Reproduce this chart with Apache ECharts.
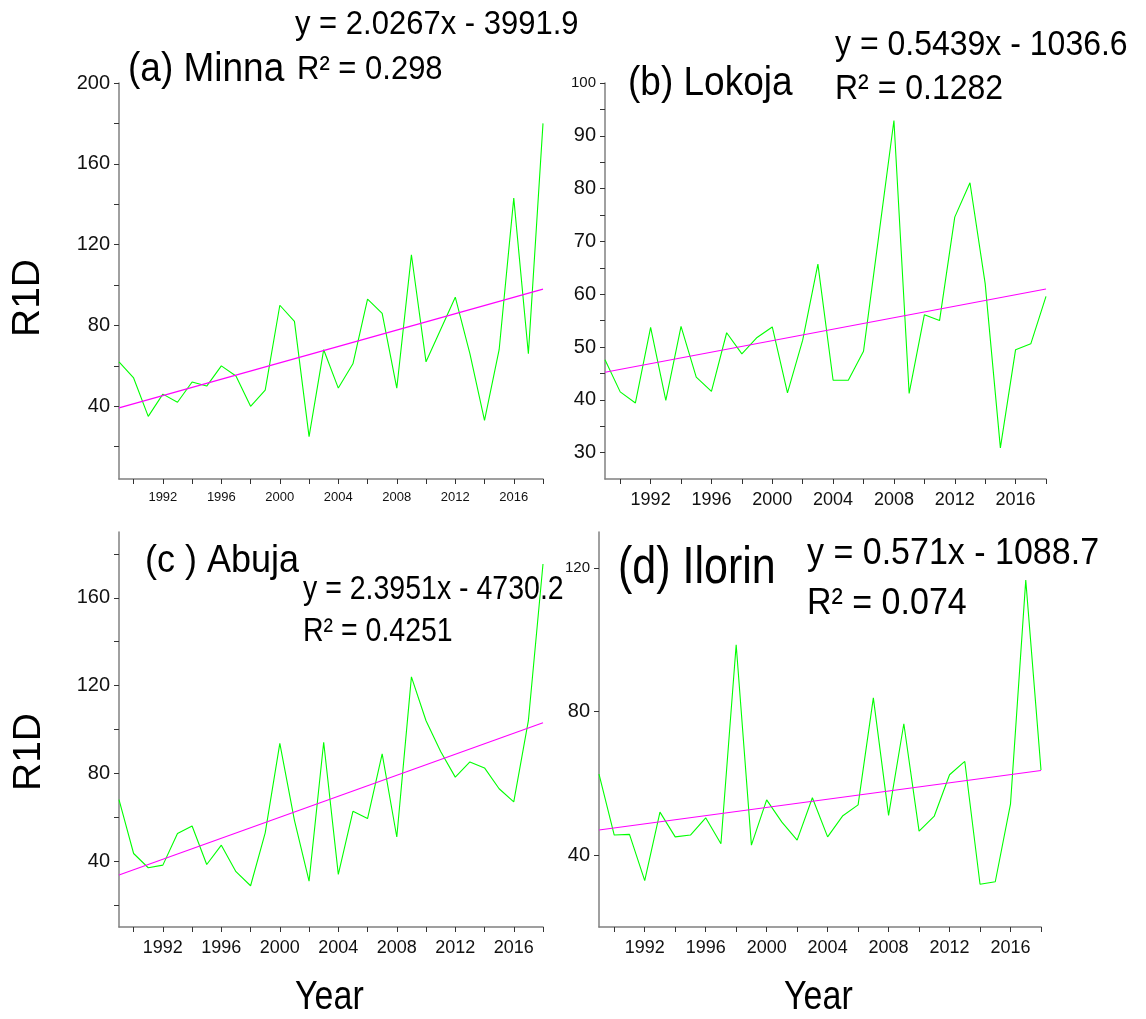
<!DOCTYPE html>
<html>
<head>
<meta charset="utf-8">
<script src="https://cdn.jsdelivr.net/npm/echarts@6/dist/echarts.min.js"></script>
<style>
html,body{margin:0;padding:0;background:#fff;}
#chart{width:1146px;height:1019px;}
</style>
</head>
<body>
<div id="chart"></div>
<script>
// ---- data ----
const years = [1989,1990,1991,1992,1993,1994,1995,1996,1997,1998,1999,2000,2001,2002,2003,2004,2005,2006,2007,2008,2009,2010,2011,2012,2013,2014,2015,2016,2017,2018];
const minna  = [62,54,35,46,42,52,50,60,55,40,48,90,82,25,68,49,61,93,86,49,115,62,78,94,66,33,68,143,66,180];
const lokoja = [47.6,41.5,39.4,53.7,39.9,53.9,44.3,41.6,52.7,48.7,51.8,53.8,41.3,51.3,65.7,43.7,43.7,49.2,71,92.9,41.2,56.1,55,74.6,81.1,62,30.9,49.5,50.6,59.6];
const abuja  = [68,43.5,37,38.2,52.6,56,38.5,47.3,35.2,28.8,52.9,93.7,58.6,30.9,94.2,34,62.7,59.4,88.9,51,124,104,90,78.3,85.2,82.5,73,67,104,175.4];
const ilorin = [62.6,45.6,45.8,32.9,52,45.1,45.6,50.4,43.2,98.6,42.8,55.4,49.2,44.2,56,45.1,51,54,83.8,51.1,76.6,46.7,50.9,62.4,66.1,31.9,32.6,54.3,116.6,63.7];
// trend lines (slope, intercept) as printed on the chart
const trendMinna  = [2.0267, -3991.9];
const trendLokoja = [0.5439, -1036.6];
const trendAbuja  = [2.3951, -4730.2];
const trendIlorin = [0.571, -1088.7];
// tick values
const yearLabels = [1992,1996,2000,2004,2008,2012,2016];
const yearTicks  = [1990,1992,1994,1996,1998,2000,2002,2004,2006,2008,2010,2012,2014,2016,2018];
const yLabelsA = [40,80,120,160,200];
const yTicksA  = [20,40,60,80,100,120,140,160,180,200];
const yLabelsB = [30,40,50,60,70,80,90,100];
const yTicksB  = [30,35,40,45,50,55,60,65,70,75,80,85,90,95,100];
const yLabelsC = [40,80,120,160];
const yTicksC  = [20,40,60,80,100,120,140,160,180];
const yLabelsD = [40,80,120];
const yTicksD  = [40,80,120];

// ---- chart ----
const FONT = '"Liberation Sans", Arial, sans-serif';
const chart = echarts.init(document.getElementById('chart'), null, {renderer:'canvas'});

const pairs = arr => years.map((y,i)=>[y,arr[i]]);
const trend = t => [[years[0], t[0]*years[0]+t[1]], [years[years.length-1], t[0]*years[years.length-1]+t[1]]];

const grids = [
  {left:119, top:83,  width:424, height:396},
  {left:605, top:83,  width:441, height:396},
  {left:119, top:532, width:424, height:395},
  {left:599, top:532, width:442, height:395}
];
const xLabelSize = [13,18,18,18];
function xAx(i){
  return {
    type:'value', gridIndex:i, min:1989, max:2018,
    axisLine:{show:true, onZero:false, lineStyle:{color:'#808080', width:1.5}},
    axisTick:{show:true, length:5, customValues:yearTicks, lineStyle:{color:'#333', width:1}},
    axisLabel:{customValues:yearLabels, formatter:v=>String(v), color:'#111', fontFamily:FONT, fontSize:xLabelSize[i], margin:12},
    splitLine:{show:false}
  };
}
function yAx(i, min, max, labels, ticks, smallVal){
  return {
    type:'value', gridIndex:i, min:min, max:max,
    axisLine:{show:true, onZero:false, lineStyle:{color:'#808080', width:1.5}},
    axisTick:{show:true, length:5, customValues:ticks, lineStyle:{color:'#333', width:1}},
    axisLabel:{customValues:labels, color:'#111', fontFamily:FONT, fontSize:20, margin:9,
      formatter:v=> (v===smallVal ? '{s|'+v+'}' : String(v)),
      rich:{s:{fontSize:15, fontFamily:FONT, color:'#111'}}},
    splitLine:{show:false}
  };
}
function ln(i, arr){
  return {type:'line', xAxisIndex:i, yAxisIndex:i, data:pairs(arr), showSymbol:false, symbol:'none',
    lineStyle:{color:'#00ff00', width:1.1}, itemStyle:{color:'#00ff00'}, animation:false, z:2};
}
function tr(i, t){
  return {type:'line', xAxisIndex:i, yAxisIndex:i, data:trend(t), showSymbol:false, symbol:'none',
    lineStyle:{color:'#ff00ff', width:1.1}, itemStyle:{color:'#ff00ff'}, animation:false, z:3};
}
function txt(str, x, y, size, sy, rot){
  return {type:'text', x:x, y:y, scaleY: sy||1, rotation: rot||0, silent:true,
    style:{text:str, fontFamily:FONT, fontSize:size, fill:'#000', textVerticalAlign:'middle', textAlign: rot ? 'center':'left'}};
}

chart.setOption({
  animation:false,
  backgroundColor:'#fff',
  grid: grids,
  xAxis:[xAx(0),xAx(1),xAx(2),xAx(3)],
  yAxis:[
    yAx(0, 4, 200, yLabelsA, yTicksA, null),
    yAx(1, 25, 100, yLabelsB, yTicksB, 100),
    yAx(2, 10, 190, yLabelsC, yTicksC, null),
    yAx(3, 20, 130, yLabelsD, yTicksD, 120)
  ],
  series:[
    ln(0,minna), tr(0,trendMinna),
    ln(1,lokoja), tr(1,trendLokoja),
    ln(2,abuja), tr(2,trendAbuja),
    ln(3,ilorin), tr(3,trendIlorin)
  ],
  graphic:[
    txt('y = 2.0267x - 3991.9', 295, 25, 31, 1.1),
    txt('(a) Minna', 128, 70, 37, 1.1),
    txt('R² = 0.298', 297, 70, 31, 1.1),
    txt('(b) Lokoja', 628, 84, 37, 1.1),
    txt('y = 0.5439x - 1036.6', 835, 45, 32, 1.1),
    txt('R² = 0.1282', 835, 89, 32, 1.1),
    txt('(c ) Abuja', 145, 561, 36, 1.1),
    txt('y = 2.3951x - 4730.2', 303, 590, 28.5, 1.15),
    txt('R² = 0.4251', 303, 632, 28.5, 1.15),
    txt('(d) Ilorin', 618, 569, 43, 1.2),
    txt('y = 0.571x - 1088.7', 807, 554, 34, 1.1),
    txt('R² = 0.074', 807, 604, 34, 1.1),
    txt('R1D', 28, 298, 39, 1, Math.PI/2),
    txt('R1D', 29, 752, 39, 1, Math.PI/2),
    txt('Year', 295, 998, 34, 1.2, 0),
    txt('Year', 784, 998, 34, 1.2, 0)
  ]
});
</script>
</body>
</html>
